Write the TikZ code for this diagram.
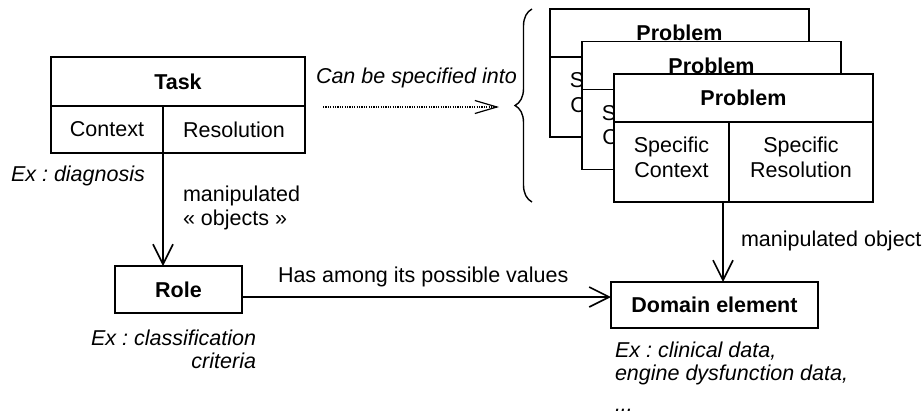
\documentclass[tikz,border=0pt]{standalone}
\usepackage{fontspec}
\setmainfont{Liberation Sans}
\frenchspacing
\usetikzlibrary{arrows.meta,decorations.pathreplacing}
\begin{document}
\begin{tikzpicture}[x=1pt,y=-1pt,
  every node/.style={inner sep=0pt, outer sep=0pt},
  txt/.style={font=\fontsize{21.5}{24}\selectfont},
  ital/.style={font=\fontsize{21.5}{23}\selectfont\itshape},
  cell/.style args={#1/#2}{draw, fill=white, line width=1.6pt,
    minimum width=#1, minimum height=#2, align=center,
    font=\fontsize{21.5}{24.5}\selectfont},
  body/.style={text depth=10pt},
  conn/.style={line width=1.6pt,
    -{Straight Barb[length=20pt,width=20pt,line width=1.6pt]}},
  spec/.style={line width=1.2pt, dash pattern=on 1.2pt off 1.2pt,
    -{Straight Barb[length=22pt,width=13pt,line width=1.2pt]}},
]
\fill[white] (0,0) rectangle (924,410);
\useasboundingbox (0,0) rectangle (924,410);

% Task with its two parts
\node[cell=254/49] (taskhead) at (178,81.5) {\textbf{Task}};
\node[cell=112/47] (taskctx) at (107,129.5) {Context};
\node[cell=142/47] (taskres) at (234,129.5) {Resolution};

% Stack of problems, back to front
\foreach \k/\ox/\oy in {1/550/9, 2/582/41.5, 3/614/74} {
  \node[cell=259/48] (prob\k-head) at (\ox+129.5,\oy+24) {\textbf{Problem}};
  \node[cell=115/80, body] (prob\k-ctx) at (\ox+57.5,\oy+88) {Specific\\Context};
  \node[cell=144/80, body] (prob\k-res) at (\ox+187,\oy+88) {Specific\\Resolution};
}

% Role and domain element
\node[cell=127/47] (role) at (178.5,289.5) {\textbf{Role}};
\node[cell=207/46] (domain) at (714.5,305) {\textbf{Domain element}};

% Specialisation into problems
\coordinate (specfrom) at (323,107);
\coordinate (specto) at (499,107);
\draw[spec] (specfrom) -- (specto);
\node[ital, anchor=west] (speclbl) at (316,78) {Can be specified into};
\draw[line width=1.4pt, decorate, decoration={brace, amplitude=17pt}]
  (532,202) -- (532,9);

% Connectors
\draw[conn] (taskctx.south east) -- (taskctx.south east |- role.north);
\coordinate (hline) at (0,297);
\draw[conn] (role.east |- hline) -- (domain.west |- hline);
\draw[conn] ([xshift=-6pt]prob3-ctx.south east)
  -- ([xshift=-6pt]prob3-ctx.south east |- domain.north);

% Labels
\node[ital, anchor=west] (exdiag) at (11,176) {Ex : diagnosis};
\node[txt, anchor=west, align=left] (manip) at (183,208)
  {manipulated\\« objects »};
\node[txt, anchor=west] (values) at (278,277) {Has among its possible values};
\node[txt, anchor=west] (manipobj) at (741,241) {manipulated object};
\node[ital, anchor=east, align=right] (exrole) at (256,349.5)
  {Ex : classification\\criteria};
\node[ital, anchor=north west, align=left] (exdom) at (615,342)
  {Ex : clinical data,\\engine dysfunction data,\\[8pt]...};
\end{tikzpicture}
\end{document}
